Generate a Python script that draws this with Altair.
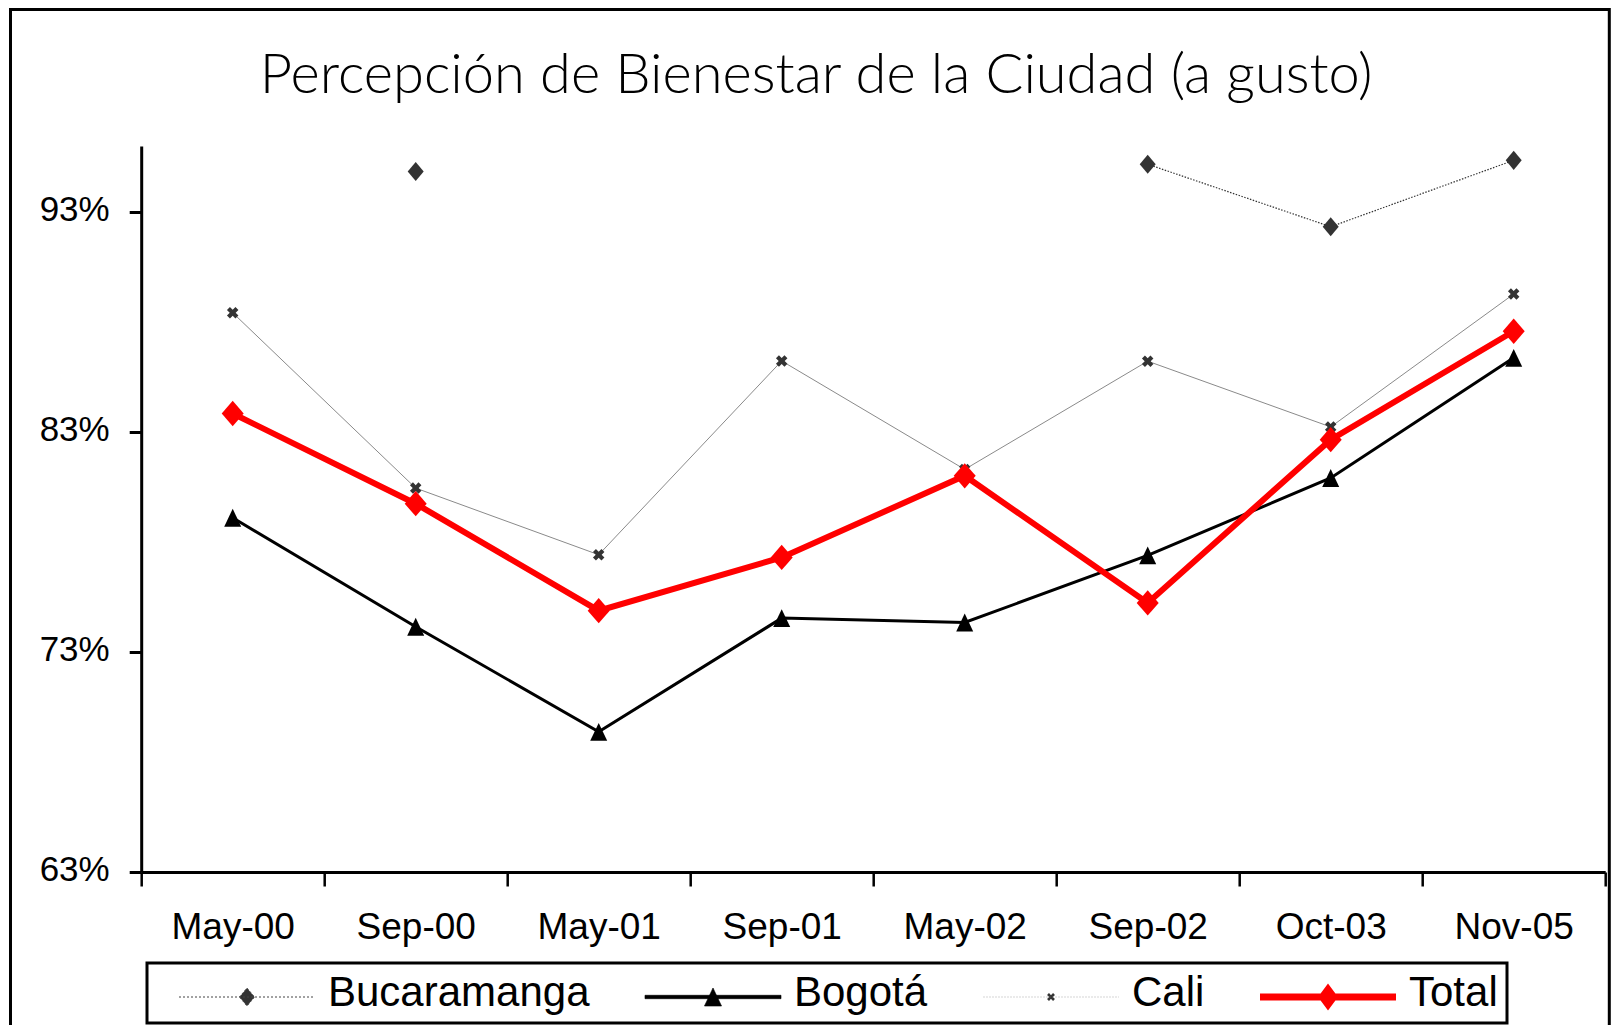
import math
import altair as alt
import pandas as pd

# ---------------- data ----------------
categories = ["May-00", "Sep-00", "May-01", "Sep-01", "May-02", "Sep-02", "Oct-03", "Nov-05"]
bucaramanga = [None, 94.84, None, None, None, 95.17, 92.33, 95.35]
bogota = [79.10, 74.15, 69.37, 74.54, 74.34, 77.39, 80.91, 86.37]
cali = [88.42, 80.45, 77.42, 86.23, 81.30, 86.22, 83.23, 89.27]
total = [83.84, 79.74, 74.88, 77.30, 81.01, 75.23, 82.65, 87.58]
series_names = ["Bucaramanga", "Bogotá", "Cali", "Total"]
y_ticks = [63, 73, 83, 93]
y_domain = [63, 96]
title_text = "Percepción de Bienestar de la Ciudad (a gusto)"

rows = []
for name, vals in zip(series_names, [bucaramanga, bogota, cali, total]):
    for c, v in zip(categories, vals):
        rows.append({"cat": c, "series": name, "value": v})
df = pd.DataFrame(rows)


# ---------------- marker paths ----------------
def diamond(cx, cy, hw, hh):
    return f"M{cx-hw:.3f},{cy:.3f}L{cx:.3f},{cy-hh:.3f}L{cx+hw:.3f},{cy:.3f}L{cx:.3f},{cy+hh:.3f}Z"


def triangle(cx, cy, hw, hh):
    return f"M{cx:.3f},{cy-hh:.3f}L{cx+hw:.3f},{cy+hh:.3f}L{cx-hw:.3f},{cy+hh:.3f}Z"


def rect(x0, x1, y0, y1):
    return f"M{x0:.3f},{y0:.3f}H{x1:.3f}V{y1:.3f}H{x0:.3f}Z"


def xmark(cx, cy, a, t):
    pts = [(-t, -a), (t, -a), (t, -t), (a, -t), (a, t), (t, t),
           (t, a), (-t, a), (-t, t), (-a, t), (-a, -t), (-t, -t)]
    r = 1 / math.sqrt(2)
    out = []
    for i, (x, y) in enumerate(pts):
        xr, yr = (x - y) * r + cx, (x + y) * r + cy
        out.append(("M" if i == 0 else "L") + f"{xr:.3f},{yr:.3f}")
    return "".join(out) + "Z"


# legend symbols (10 px per unit at size 400)
LW = 6.8
DY = 0.4
leg_shapes = [
    f"M{-LW},{DY}H{LW}" + diamond(0, DY, 0.75, 0.9),
    rect(-LW, LW, DY - 0.17, DY + 0.17) + triangle(0, DY, 0.85, 0.9),
    f"M{-LW},{DY}H{LW}" + xmark(0, DY, 0.42, 0.13),
    rect(-LW, LW, DY - 0.35, DY + 0.35) + diamond(0, DY, 1.0, 1.35),
]
leg_fill = ["#333333", "#000000", "#333333", "#ff0000"]
leg_stroke = ["#444444", "#000000", "#808080", "#ff0000"]
leg_sw = [1, 0, 1, 0]
leg_dash = [[2, 2], [1, 0], [2, 1], [1, 0]]

# ---------------- encodings ----------------
x_enc = alt.X(
    "cat:N",
    sort=categories,
    scale=alt.Scale(type="band", domain=categories, paddingInner=0, paddingOuter=0),
    axis=alt.Axis(
        title=None, labelAngle=0, tickBand="extent", grid=False,
        domainColor="black", domainWidth=3, tickColor="black", tickWidth=2.5,
        tickSize=14, labelPadding=23,
        labelFont="Liberation Sans", labelFontSize=37,
        labelColor="black",
    ),
)
y_enc = alt.Y(
    "value:Q",
    scale=alt.Scale(domain=y_domain, nice=False, zero=False),
    axis=alt.Axis(
        title=None, values=y_ticks, labelExpr="datum.value + '%'", grid=False,
        domainColor="black", domainWidth=3, tickColor="black", tickWidth=3,
        tickSize=12, labelPadding=20, labelOffset=-3,
        labelFont="Liberation Sans", labelFontSize=35,
        labelColor="black",
    ),
)

base = alt.Chart(df).encode(x=x_enc, y=y_enc)


def sel(name):
    return base.transform_filter(alt.datum.series == name)


line_buc = sel("Bucaramanga").mark_line(color="#333333", strokeWidth=1.2, strokeDash=[1.5, 1.5],
                                        invalid="break-paths-show-domains")
pts_buc = sel("Bucaramanga").mark_point(shape=diamond(0, 0, 1, 1.2), size=256, filled=True,
                                        color="#333333", opacity=1)
line_bog = sel("Bogotá").mark_line(color="black", strokeWidth=3)
pts_bog = sel("Bogotá").mark_point(shape=triangle(0, 0, 1, 1.05), size=289, filled=True,
                                   color="black", opacity=1)
line_cali = sel("Cali").mark_line(color="#8a8a8a", strokeWidth=1)
pts_cali = sel("Cali").mark_point(shape=xmark(0, 0, 1, 0.35), size=144, filled=True,
                                  color="#333333", opacity=1)
line_tot = sel("Total").mark_line(color="#ff0000", strokeWidth=6)
pts_tot = sel("Total").mark_point(shape=diamond(0, 0, 1, 1.15), size=484, filled=True,
                                  color="#ff0000", opacity=1)

# legend-only layer (no marks drawn, explicit scale domains)
O = lambda ch, rng: ch("series:O", sort=series_names,
                       scale=alt.Scale(domain=series_names, range=rng))
legend_layer = (
    alt.Chart(df)
    .transform_filter("datum.value > 1000")
    .mark_point(size=400, opacity=1)
    .encode(
        fill=alt.Fill("series:O", sort=series_names,
                      scale=alt.Scale(domain=series_names, range=leg_fill),
                      legend=alt.Legend(
                          title=None, orient="none", legendX=5.8, legendY=817,
                          direction="horizontal", columns=4,
                          labelFont="Liberation Sans", labelFontSize=42, labelColor="black",
                          labelLimit=400, symbolSize=400, symbolOffset=70, labelOffset=60,
                          columnPadding=32, padding=9, fillColor="white",
                          strokeColor="black", cornerRadius=0,
                      )),
        stroke=O(alt.Stroke, leg_stroke),
        shape=O(alt.Shape, leg_shapes),
        strokeWidth=O(alt.StrokeWidth, leg_sw),
        strokeDash=O(alt.StrokeDash, leg_dash),
    )
)

# outer chart frame (decoration)
frame = alt.Chart(pd.DataFrame({"k": [0]})).mark_rect(
    fillOpacity=0, stroke="black", strokeWidth=3
).encode(x=alt.value(-130.7), x2=alt.value(1468.1), y=alt.value(-136.5), y2=alt.value(900))

chart = alt.layer(
    frame, line_buc, pts_buc, line_bog, pts_bog, line_cali, pts_cali, line_tot, pts_tot,
    legend_layer,
).properties(
    width=1464,
    height=726,
    title=alt.TitleParams(
        text=title_text, font="Lato", fontWeight=300, fontSize=56, color="black",
        anchor="middle", frame="group", dx=-57, offset=-141, baseline="alphabetic",
    ),
    autosize=alt.AutoSizeParams(type="none"),
    padding={"left": 133.2, "top": 138, "right": 5.8, "bottom": 153},
    background="white",
).configure_view(stroke="transparent", strokeWidth=0).configure_legend(strokeWidth=3)

chart.save("out.html", embed_options={"renderer": "svg", "actions": False})
